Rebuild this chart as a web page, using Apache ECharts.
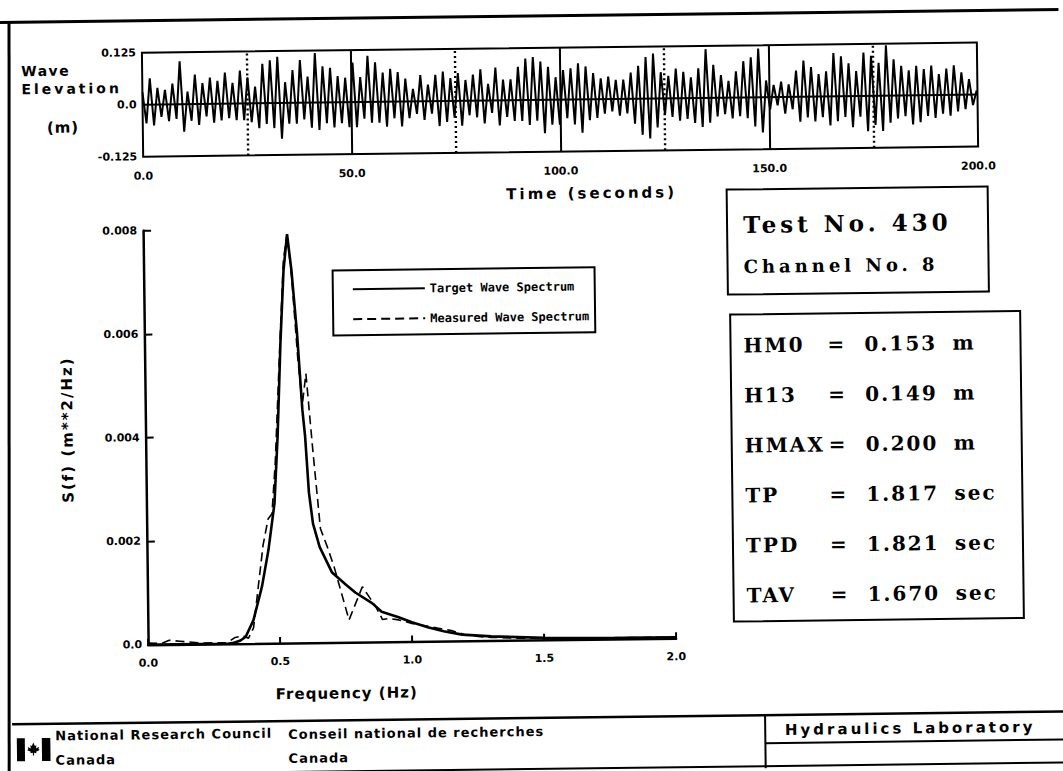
<!DOCTYPE html>
<html>
<head>
<meta charset="utf-8">
<script src="https://cdn.jsdelivr.net/npm/echarts@6/dist/echarts.min.js"></script>
<style>
html,body{margin:0;padding:0;background:#fff;overflow:hidden;}
#chart{width:1063px;height:771px;transform:rotate(-0.7deg);transform-origin:531px 385px;}
/* letter spacing of the typed labels (font-family marker names) */
#chart text[style*="lsZ"]{letter-spacing:1px;}
#chart text[style*="lsA"]{letter-spacing:1.5px;}
#chart text[style*="lsB"]{letter-spacing:2px;}
#chart text[style*="lsC"]{letter-spacing:3px;}
#chart text[style*="lsD"]{letter-spacing:4px;}
</style>
</head>
<body>
<div id="chart"></div>
<script>
// ---------------- data ----------------
// wave elevation record (m): alternating crest / trough values, one every waveDt seconds
const waveDt = 0.9;
const waveElev = [
 0.030,-0.045, 0.063,-0.050, 0.040,-0.030, 0.035,-0.040, 0.050,-0.035,
 0.103,-0.066, 0.030,-0.040, 0.071,-0.050, 0.050,-0.030, 0.063,-0.045,
 0.055,-0.040, 0.075,-0.035, 0.050,-0.040, 0.079,-0.040, 0.063,-0.045,
 0.040,-0.060, 0.095,-0.050, 0.103,-0.060, 0.111,-0.086, 0.050,-0.050,
 0.079,-0.050, 0.103,-0.040, 0.063,-0.060, 0.119,-0.066, 0.087,-0.050,
 0.083,-0.060, 0.063,-0.050, 0.059,-0.060, 0.095,-0.060, 0.060,-0.040,
 0.111,-0.050, 0.095,-0.050, 0.070,-0.060, 0.079,-0.040, 0.071,-0.060,
 0.055,-0.040, 0.030,-0.030, 0.063,-0.045, 0.040,-0.030, 0.063,-0.060,
 0.071,-0.050, 0.055,-0.040, 0.067,-0.060, 0.050,-0.035, 0.063,-0.040,
 0.075,-0.055, 0.040,-0.030, 0.079,-0.060, 0.050,-0.040, 0.050,-0.050,
 0.080,-0.050, 0.100,-0.060, 0.103,-0.050, 0.092,-0.080, 0.079,-0.060,
 0.054,-0.060, 0.071,-0.045, 0.075,-0.060, 0.087,-0.080, 0.079,-0.050,
 0.063,-0.045, 0.050,-0.035, 0.054,-0.030, 0.046,-0.040, 0.046,-0.035,
 0.063,-0.060, 0.079,-0.087, 0.100,-0.096, 0.108,-0.070, 0.063,-0.040,
 0.054,-0.045, 0.071,-0.054, 0.063,-0.050, 0.050,-0.060, 0.071,-0.070,
 0.117,-0.060, 0.079,-0.045, 0.054,-0.040, 0.040,-0.050, 0.063,-0.045,
 0.087,-0.050, 0.096,-0.070, 0.117,-0.085, 0.040,-0.030, 0.029,-0.020,
 0.037,-0.040, 0.030,-0.030, 0.063,-0.060, 0.087,-0.050, 0.071,-0.060,
 0.054,-0.050, 0.060,-0.070, 0.104,-0.060, 0.096,-0.050, 0.079,-0.075,
 0.060,-0.050, 0.104,-0.085, 0.096,-0.070, 0.079,-0.085, 0.121,-0.065,
 0.087,-0.055, 0.071,-0.050, 0.060,-0.070, 0.071,-0.065, 0.063,-0.050,
 0.071,-0.055, 0.050,-0.045, 0.063,-0.050, 0.071,-0.040, 0.054,-0.035,
 0.037,-0.025, 0.010
];
const timeTicks = ['0.0', '50.0', '100.0', '150.0', '200.0'];
const elevTicks = ['-0.125', '0.0', '0.125'];
const solidMarks = [50, 100, 150];
const dottedMarks = [25, 75, 125, 175];

// wave spectra: frequency (Hz) and spectral density (m**2/Hz)
const targetFreq = [0.0, 0.10, 0.20, 0.30, 0.32, 0.35, 0.37, 0.40, 0.434, 0.46, 0.485, 0.50, 0.515, 0.53, 0.545,
  0.56, 0.578, 0.595, 0.604, 0.616, 0.63, 0.654, 0.70, 0.75, 0.787, 0.85, 0.886, 0.95, 1.0, 1.06, 1.12, 1.19,
  1.30, 1.40, 1.50, 1.60, 1.80, 2.0];
const targetDensity = [0, 0, 0, 0, 0.00001, 0.00006, 0.00013, 0.00045, 0.0011, 0.0018, 0.0027, 0.0040, 0.0058, 0.0072, 0.0079,
  0.0072, 0.0060, 0.0045, 0.0040, 0.0029, 0.0023, 0.00185, 0.00135, 0.00112, 0.00096, 0.00075, 0.00058, 0.00047, 0.00037, 0.00027, 0.00019, 0.00012,
  0.00008, 0.00006, 0.00004, 0.00003, 0.00002, 0.00002];
const measuredFreq = [0.0, 0.05, 0.08, 0.12, 0.20, 0.30, 0.33, 0.36, 0.38, 0.40, 0.42, 0.44, 0.46, 0.475, 0.49, 0.51, 0.53, 0.545,
  0.56, 0.58, 0.595, 0.61, 0.633, 0.658, 0.683, 0.708, 0.762, 0.814, 0.864, 0.889, 0.914, 0.95, 1.0, 1.05, 1.10, 1.15, 1.20,
  1.25, 1.30, 1.40, 1.60, 2.0];
const measuredDensity = [0.00003, 0.00002, 0.00008, 0.00006, 0.00002, 0.00002, 0.00012, 0.00015, 0.0001, 0.0003, 0.0011, 0.0019, 0.0024, 0.0025, 0.0035, 0.0055, 0.0074, 0.0079,
  0.0071, 0.0055, 0.0046, 0.0052, 0.0037, 0.0022, 0.00185, 0.00146, 0.00043, 0.00107, 0.00068, 0.00043, 0.00045, 0.00042, 0.00035, 0.0003, 0.00025, 0.0002, 0.00012,
  0.00008, 0.00006, 0.00004, 0.00003, 0.00002];
const freqTicks = ['0.0', '0.5', '1.0', '1.5', '2.0'];
const densityTicks = ['0.0', '0.002', '0.004', '0.006', '0.008'];
const seriesNames = ['Target Wave Spectrum', 'Measured Wave Spectrum'];

// test summary
const testLabel = 'Test No. 430';
const channelLabel = 'Channel No. 8';
const statNames = ['HM0', 'H13', 'HMAX', 'TP', 'TPD', 'TAV'];
const statValues = ['0.153', '0.149', '0.200', '1.817', '1.821', '1.670'];
const statUnits = ['m', 'm', 'm', 'sec', 'sec', 'sec'];

// footer
const orgEnglish = ['National Research Council', 'Canada'];
const orgFrench = ['Conseil national de recherches', 'Canada'];
const labName = 'Hydraulics Laboratory';

// ---------------- chart ----------------
const BLK = '#000';
const SANS = 'DejaVu Sans';
const SERIF = 'DejaVu Serif';
const MONO = 'DejaVu Sans Mono';
// bold font string; optional spacing marker family (matched by the CSS above)
function F(size, fam, sp) { return 'bold ' + size + 'px ' + fam + (sp ? ', ' + sp : ''); }

const chart = echarts.init(document.getElementById('chart'), null, {renderer: 'svg'});

const tickFont = {color: BLK, fontFamily: SANS, fontWeight: 'bold', fontSize: 11};

const markData = [];
solidMarks.forEach(x => markData.push({xAxis: x, lineStyle: {type: 'solid', width: 2, color: BLK}}));
dottedMarks.forEach(x => markData.push({xAxis: x, lineStyle: {type: [2, 3], width: 2.4, color: BLK}}));
markData.push({yAxis: 0, lineStyle: {type: 'solid', width: 2, color: BLK}});

const graphics = [];
function txt(x, y, text, font, opts) {
  graphics.push(Object.assign({
    type: 'text', x: x, y: y, silent: true,
    style: Object.assign({text: text, fill: BLK, textAlign: 'left', textVerticalAlign: 'middle'}, font)
  }, opts || {}));
}
function line(x1, y1, x2, y2, w) {
  graphics.push({type: 'line', silent: true, shape: {x1: x1, y1: y1, x2: x2, y2: y2},
    style: {stroke: BLK, lineWidth: w || 2}});
}
function rect(x, y, w, h, lw) {
  graphics.push({type: 'rect', silent: true, shape: {x: x, y: y, width: w, height: h},
    style: {fill: 'none', stroke: BLK, lineWidth: lw || 2}});
}

// page frame
line(4, 16, 1075, 16, 3);
line(13.5, 16, 4.3, 780, 3);

// top plot titles
txt(25, 65, 'Wave', {font: F(14, SANS, 'lsA')});
txt(25, 83, 'Elevation', {font: F(14, SANS, 'lsC')});
txt(50, 122, '(m)', {font: F(15, SANS, 'lsZ')});
txt(594, 194, 'Time (seconds)', {font: F(15, SANS, 'lsC'), textAlign: 'center'});

// spectrum axis titles
txt(67, 424, 'S(f) (m**2/Hz)', {font: F(15, SANS, 'lsB'), textAlign: 'center'}, {rotation: Math.PI / 2});
txt(343, 691, 'Frequency (Hz)', {font: F(15, SANS, 'lsZ'), textAlign: 'center'});

// test number box
rect(729, 192, 261, 105, 2);
txt(745, 227, testLabel, {font: F(23, SERIF, 'lsD')});
txt(745, 269, channelLabel, {font: F(18, SERIF, 'lsD')});

// statistics box
rect(731, 317, 290, 307, 2);
statNames.forEach((n, i) => {
  const y = 348 + i * 50;
  const f = F(20, SERIF, 'lsB');
  txt(744, y, n, {font: f});
  txt(828, y, '=', {font: f});
  txt(865, y, statValues[i], {font: f});
  txt(953, y, statUnits[i], {font: f});
});

// footer
line(8, 718, 1075, 718, 2.5);
line(4, 769, 1075, 769, 2);
line(761, 718, 761, 772, 2);
line(761, 746, 1075, 746, 2);
txt(51, 730, orgEnglish[0], {font: F(13, SANS, 'lsZ')});
txt(51, 754.5, orgEnglish[1], {font: F(13, SANS, 'lsZ')});
txt(284, 731.5, orgFrench[0], {font: F(13, SANS, 'lsZ')});
txt(284, 755.5, orgFrench[1], {font: F(13, SANS, 'lsZ')});
txt(906, 733, labName, {font: F(15, SANS, 'lsC'), textAlign: 'center'});
// Canada wordmark flag
graphics.push({type: 'rect', silent: true, shape: {x: 12.5, y: 732, width: 8, height: 23}, style: {fill: BLK}});
graphics.push({type: 'rect', silent: true, shape: {x: 37.5, y: 732, width: 8.5, height: 23}, style: {fill: BLK}});
const leaf = [[0,-6.5],[1.5,-3.2],[3,-3.8],[2.6,-0.6],[5.6,-2.2],[5.1,0],[6.2,1],[2.6,2.6],[3.1,4.2],[0.6,3.6],[0.6,6.5],
  [-0.6,6.5],[-0.6,3.6],[-3.1,4.2],[-2.6,2.6],[-6.2,1],[-5.1,0],[-5.6,-2.2],[-2.6,-0.6],[-3,-3.8],[-1.5,-3.2]];
graphics.push({type: 'polygon', silent: true, shape: {points: leaf.map(p => [29 + p[0], 743 + p[1]])}, style: {fill: BLK}});

const option = {
  animation: false,
  backgroundColor: '#fff',
  legend: {
    data: seriesNames,
    selectedMode: false,
    orient: 'vertical',
    left: 334, top: 268,
    borderColor: BLK, borderWidth: 2, borderRadius: 0,
    padding: [13, 6, 10, 19],
    itemWidth: 72, itemHeight: 14, itemGap: 18,
    itemStyle: {color: 'rgba(0,0,0,0)', borderWidth: 0, opacity: 0},
    textStyle: {color: BLK, fontFamily: MONO, fontWeight: 'bold', fontSize: 12}
  },
  grid: [
    {left: 146, top: 48, width: 835, height: 104, show: true, borderColor: BLK, borderWidth: 2, backgroundColor: 'transparent'},
    {left: 145, top: 226, width: 528, height: 414}
  ],
  xAxis: [
    {gridIndex: 0, type: 'value', min: 0, max: 200, interval: 50,
      axisLine: {show: false}, axisTick: {show: false}, splitLine: {show: false},
      axisLabel: Object.assign({margin: 14, formatter: v => timeTicks[Math.round(v / 50)]}, tickFont)},
    {gridIndex: 1, type: 'value', min: 0, max: 2, interval: 0.5,
      axisLine: {show: true, onZero: false, lineStyle: {color: BLK, width: 2.5}},
      axisTick: {show: true, inside: true, length: 6, lineStyle: {color: BLK, width: 2}},
      splitLine: {show: false},
      axisLabel: Object.assign({margin: 13, formatter: v => freqTicks[Math.round(v / 0.5)]}, tickFont)}
  ],
  yAxis: [
    {gridIndex: 0, type: 'value', min: -0.125, max: 0.125, interval: 0.125,
      axisLine: {show: false}, axisTick: {show: false}, splitLine: {show: false},
      axisLabel: Object.assign({margin: 6, padding: [6, 0, 0, 0], formatter: v => elevTicks[Math.round(v / 0.125) + 1]}, tickFont)},
    {gridIndex: 1, type: 'value', min: 0, max: 0.008, interval: 0.002,
      axisLine: {show: true, onZero: false, lineStyle: {color: BLK, width: 2.5}},
      axisTick: {show: true, inside: true, length: 8, lineStyle: {color: BLK, width: 2}},
      splitLine: {show: false},
      axisLabel: Object.assign({margin: 6, padding: [6, 0, 0, 0], formatter: v => densityTicks[Math.round(v / 0.002)]}, tickFont)}
  ],
  series: [
    {
      name: 'Wave Elevation', type: 'line', xAxisIndex: 0, yAxisIndex: 0,
      data: waveElev.map((v, i) => [i * waveDt, v]),
      symbol: 'none', lineStyle: {color: BLK, width: 2}, silent: true,
      markLine: {symbol: ['none', 'none'], silent: true, label: {show: false}, data: markData}
    },
    {
      name: seriesNames[1], type: 'line', xAxisIndex: 1, yAxisIndex: 1,
      data: measuredFreq.map((f, i) => [f, measuredDensity[i]]),
      symbol: 'none', lineStyle: {color: BLK, width: 1.6, type: [9, 5]}, itemStyle: {color: BLK}, silent: true
    },
    {
      name: seriesNames[0], type: 'line', xAxisIndex: 1, yAxisIndex: 1,
      data: targetFreq.map((f, i) => [f, targetDensity[i]]),
      symbol: 'none', lineStyle: {color: BLK, width: 2.6}, itemStyle: {color: BLK}, silent: true
    }
  ],
  graphic: graphics
};
chart.setOption(option);
</script>
</body>
</html>
